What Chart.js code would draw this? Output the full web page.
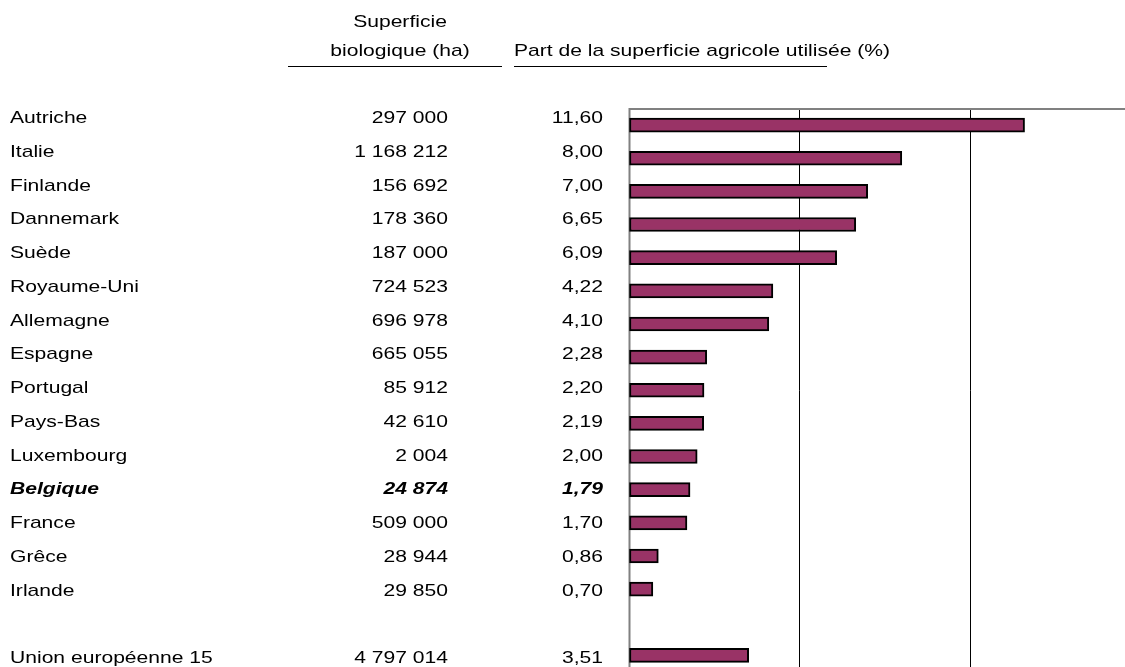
<!DOCTYPE html>
<html>
<head>
<meta charset="utf-8">
<script src="https://cdn.jsdelivr.net/npm/chart.js@4"></script>
<style>
    html, body { margin: 0; padding: 0; background: #fff; overflow: hidden; }
    #wrap { position: absolute; left: 0; top: 0; }
</style>
</head>
<body>
<div id="wrap"><canvas id="bioChart" width="1145" height="672"></canvas></div>
<script>
// data
const pays = ["Autriche", "Italie", "Finlande", "Dannemark", "Suède", "Royaume-Uni", "Allemagne",
    "Espagne", "Portugal", "Pays-Bas", "Luxembourg", "Belgique", "France", "Grêce", "Irlande",
    "", "Union européenne 15"];
const surfaceHa = [297000, 1168212, 156692, 178360, 187000, 724523, 696978,
    665055, 85912, 42610, 2004, 24874, 509000, 28944, 29850, null, 4797014];
const partSau = [11.60, 8.00, 7.00, 6.65, 6.09, 4.22, 4.10,
    2.28, 2.20, 2.19, 2.00, 1.79, 1.70, 0.86, 0.70, null, 3.51];
const gridTicks = [0, 5, 10, 15];
const highlighted = "Belgique";

const FONT = '"Liberation Sans", Arial, sans-serif';
const STRETCH = 1.24; // text in the picture is wider than plain Arial
const ROW_TOP = 123;  // baseline of first row
const ROW_STEP = 33.75;

function formatHa(n) {
    return String(n).replace(/\B(?=(\d{3})+(?!\d))/g, " ");
}

function formatPct(v) {
    return v.toFixed(2).replace(".", ",");
}

// draw a string, stretched horizontally
function stretchedText(ctx, text, x, y, align, font) {
    ctx.save();
    ctx.font = font;
    ctx.textAlign = align;
    ctx.textBaseline = "alphabetic";
    ctx.translate(x, y);
    ctx.scale(STRETCH, 1);
    ctx.fillText(text, 0, 0);
    ctx.restore();
}

// gray frame lines on the left and the top of the plot
const framePlugin = {
    id: "frame",
    beforeDatasetsDraw(chart) {
        const { ctx, chartArea } = chart;
        ctx.save();
        ctx.strokeStyle = "#808080";
        ctx.lineWidth = 2;
        ctx.beginPath();
        ctx.moveTo(chartArea.left + 0.5, chartArea.bottom);
        ctx.lineTo(chartArea.left + 0.5, chartArea.top + 0.5);
        ctx.lineTo(chart.width, chartArea.top + 0.5);
        ctx.stroke();
        ctx.restore();
    }
};

// table on the left: headers, country, surface, share
const tablePlugin = {
    id: "table",
    afterDraw(chart) {
        const ctx = chart.ctx;
        const normal = "17px " + FONT;
        const bold = "italic bold 17px " + FONT;
        ctx.save();
        ctx.fillStyle = "#000";

        stretchedText(ctx, "Superficie", 400, 27, "center", normal);
        stretchedText(ctx, "biologique (ha)", 400, 56, "center", normal);
        stretchedText(ctx, "Part de la superficie agricole utilisée (%)", 514, 56, "left", normal);

        ctx.strokeStyle = "#000";
        ctx.lineWidth = 1;
        ctx.beginPath();
        ctx.moveTo(288, 66.5);
        ctx.lineTo(502, 66.5);
        ctx.moveTo(514, 66.5);
        ctx.lineTo(827, 66.5);
        ctx.stroke();

        pays.forEach((name, i) => {
            if (!name) return;
            const y = ROW_TOP + i * ROW_STEP;
            const f = name === highlighted ? bold : normal;
            stretchedText(ctx, name, 10, y, "left", f);
            stretchedText(ctx, formatHa(surfaceHa[i]), 448, y, "right", f);
            stretchedText(ctx, formatPct(partSau[i]), 603, y, "right", f);
        });
        ctx.restore();
    }
};

const ctx = document.getElementById("bioChart").getContext("2d");
const chart = new Chart(ctx, {
    type: "bar",
    data: {
        labels: pays,
        datasets: [{
            data: partSau,
            backgroundColor: "#993366",
            borderColor: "#000000",
            borderWidth: 2,
            borderSkipped: false,
            barThickness: 14
        }]
    },
    options: {
        indexAxis: "y",
        responsive: false,
        animation: false,
        layout: {
            padding: { top: 108.5, left: 629, right: 4.5, bottom: 0 }
        },
        plugins: {
            legend: { display: false },
            tooltip: { enabled: false }
        },
        scales: {
            x: {
                min: 0,
                max: 15,
                afterBuildTicks: (scale) => {
                    scale.ticks = gridTicks.map(v => ({ value: v }));
                },
                ticks: { display: false },
                border: { display: false },
                grid: {
                    drawTicks: false,
                    lineWidth: 1,
                    color: (c) => c.tick && c.tick.value === 0 ? "rgba(0,0,0,0)" : "#000000"
                }
            },
            y: {
                display: false
            }
        }
    },
    plugins: [framePlugin, tablePlugin]
});
</script>
</body>
</html>
